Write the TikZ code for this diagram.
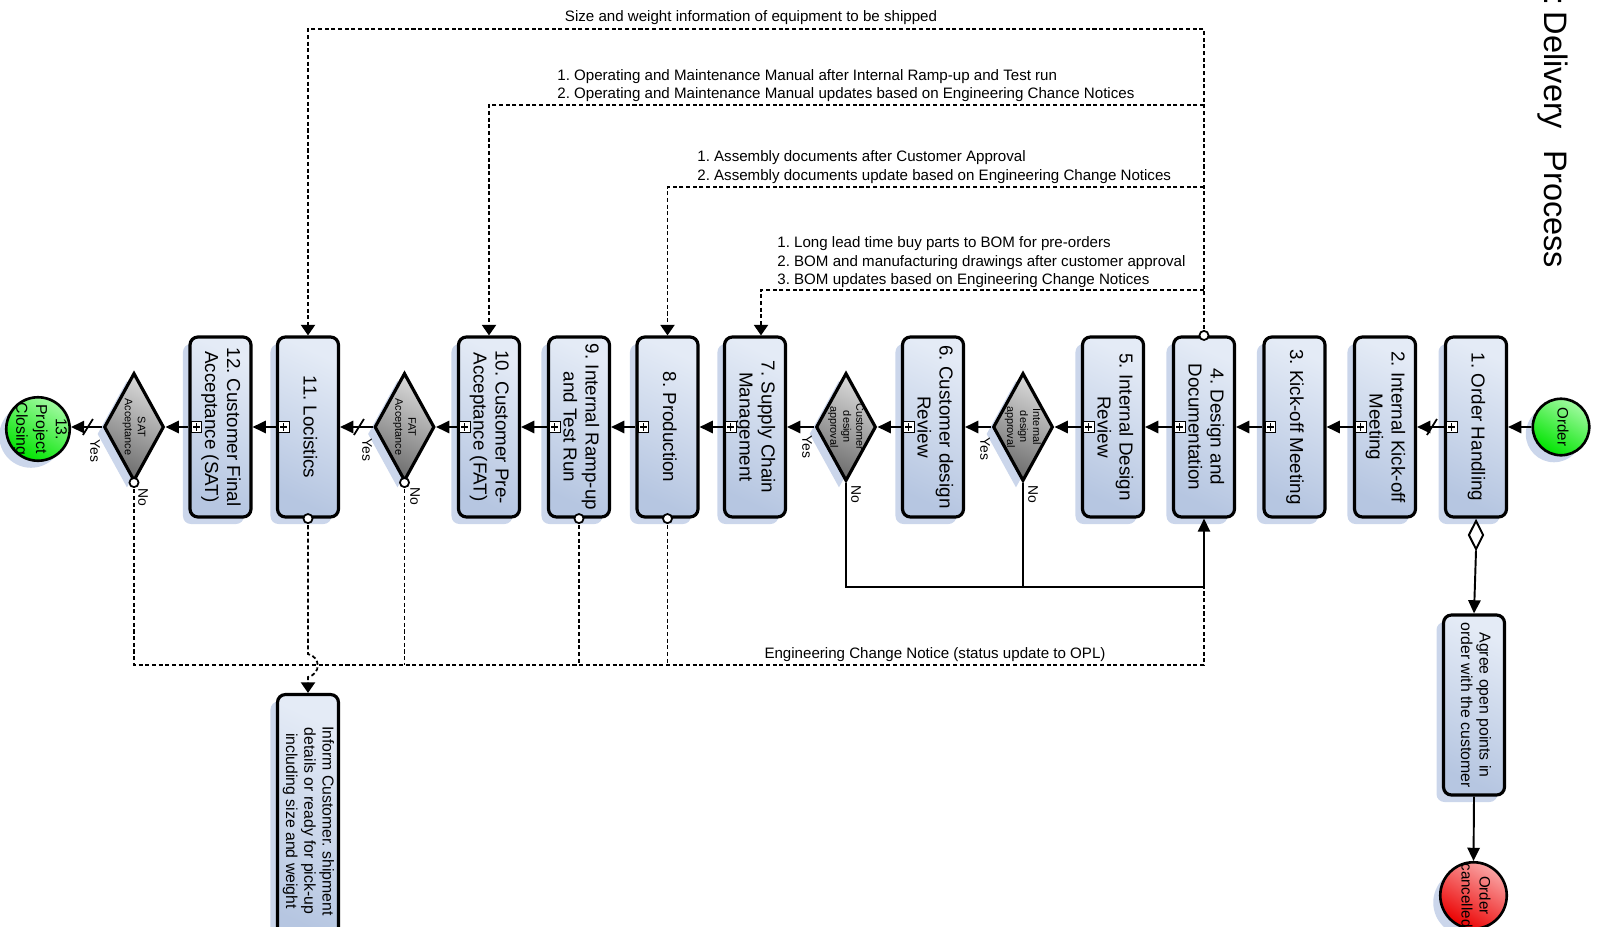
\documentclass[tikz,border=0pt]{standalone}
\usepackage{fontspec}
\setmainfont{Liberation Sans}
\usetikzlibrary{arrows.meta,shapes.geometric,shadows,calc}
\definecolor{boxlight}{RGB}{228,235,246}
\definecolor{boxdark}{RGB}{182,198,225}
\definecolor{shadowblue}{RGB}{203,214,235}
\definecolor{gatelight}{RGB}{216,216,216}
\definecolor{gatedark}{RGB}{110,110,110}
\definecolor{startlight}{RGB}{160,250,160}
\definecolor{startdark}{RGB}{0,228,0}
\definecolor{endlight}{RGB}{250,165,165}
\definecolor{enddark}{RGB}{235,0,0}
\frenchspacing
\newcommand{\rtext}[1]{\rotatebox{-90}{\begin{tabular}{@{}c@{}}#1\end{tabular}}}
\tikzset{
  bshadow/.style={drop shadow={shadow xshift=-4pt,shadow yshift=-4pt,fill=shadowblue,opacity=1}},
  task/.style={draw,line width=1.8pt,rounded corners=4.5pt,top color=boxlight,bottom color=boxdark,
    shading angle=-25,minimum width=1.22cm,minimum height=3.6cm,inner sep=0pt,bshadow,
    font=\fontsize{10.7}{12.5}\selectfont},
  note/.style={task,font=\fontsize{9}{10.4}\selectfont},
  gate/.style={diamond,draw,line width=1.8pt,top color=gatelight,bottom color=gatedark,
    shading angle=-25,minimum width=1.2cm,minimum height=2.16cm,inner sep=0pt,bshadow},
  gtext/.style={rotate=-90,align=center,inner sep=0pt,font=\fontsize{6.2}{7.4}\selectfont},
  event/.style={circle,draw,line width=1.5pt,inner sep=0pt,bshadow},
  etext/.style={rotate=-90,align=center,inner sep=0pt},
  opengate/.style={diamond,draw,fill=white,line width=1.1pt,inner sep=0pt,
    minimum width=0.3cm,minimum height=0.58cm},
  flow/.style={line width=1.1pt,-{Triangle[length=7.5pt,width=7pt]}},
  assocline/.style={line width=1pt,dash pattern=on 2.3pt off 1.5pt},
  assoc/.style={assocline,-{Triangle[length=6pt,width=8pt]}},
  startmark/.style={draw,fill=white,line width=1pt},
  lbl/.style={inner sep=0pt,font=\fontsize{8.6}{10.4}\selectfont},
  side/.style={inner sep=0pt,rotate=-90,font=\fontsize{7.9}{9}\selectfont},
}
\begin{document}
\begin{tikzpicture}[x=0.02cm,y=-0.02cm]
  \useasboundingbox (0,0) rectangle (1598,926);
  \clip (0,0) rectangle (1598,926);
  \node[rotate=-90,anchor=west,inner sep=0pt,font=\fontsize{18.5}{22}\selectfont] (title) at (1553,-4)
    {:\hspace{0.2em}Delivery\hspace{0.38em} Process};

  \foreach \nm/\xx/\txt in {b1/1476/{1. Order Handling},b2/1385/{2. Internal Kick-off\\Meeting},
      b3/1294.5/{3. Kick-off Meeting},b4/1204/{4. Design and\\Documentation},
      b5/1113/{5. Internal Design\\Review},b6/933/{6. Customer design\\Review},
      b7/755/{7. Supply Chain\\Management},b8/667.5/{8. Production},
      b9/579/{9. Internal Ramp-up\\and Test Run},b10/489/{10. Customer Pre-\\Acceptance (FAT)},
      b11/308/{11. Locistics},b12/220.5/{12. Customer Final\\Acceptance (SAT)}}
    \node[task] (\nm) at (\xx,427) {\rtext{\txt}};

  \foreach \nm/\xx/\txt in {dI/1023/{Internal\\design\\approval},dC/846/{Customer\\design\\approval},
      dF/404.5/{FAT\\Acceptance},dS/134/{SAT\\Acceptance}}{
    \node[gate] (\nm) at (\xx,427) {};
    \node[gtext] (\nm t) at (\nm) {\txt};
  }

  \node[event,top color=startlight,bottom color=startdark,shading angle=-30,minimum size=1.13cm,
    font=\fontsize{8.6}{10}\selectfont] (oc) at (1561,427) {\rtext{Order}};
  \node[event,top color=startlight,bottom color=startdark,shading angle=-30,minimum size=1.27cm] (c13) at (38,429) {};
  \begin{scope}
    \clip (c13.center) circle (0.62cm);
    \node[etext,font=\fontsize{9}{11.3}\selectfont] (c13t) at (40,429) {13.\\Project\\Closing};
  \end{scope}

  \node[opengate] (og) at (1476,535) {};
  \node[note] (agree) at (1474,705) {\rtext{Agree open points in\\order with the customer}};
  \node[event,top color=endlight,bottom color=enddark,shading angle=-30,minimum size=1.33cm] (ec) at (1473.5,895.5) {};
  \node[etext,font=\fontsize{8.6}{10.2}\selectfont] (ect) at (1476,895.5) {Order\\cancelled};
  \node[note,minimum height=5.06cm] (inf) at (308,821)
    {\rtext{Inform Customer. shipment\\details or ready for pick-up\\including size and weight}};

  \foreach \a/\b in {oc/b1,b1/b2,b2/b3,b3/b4,b4/b5,b5/dI,dI/b6,b6/dC,dC/b7,b7/b8,b8/b9,b9/b10,
      b10/dF,dF/b11,b11/b12,b12/dS,dS/c13}
    \draw[flow] (\a.west) -- (\a.west -| \b.east);
  \foreach \a/\dx in {b1/12,dF/14,dS/14.5}
    \draw[line width=1pt] ($(\a.west)+(-\dx-5,8)$) -- ++(10,-16);
  \foreach \b in {b1,b2,b3,b4,b5,b6,b7,b8,b9,b10,b11,b12}{
    \draw[line width=0.6pt,fill=white] ([xshift=4.5pt]\b.west) +(-3pt,-3pt) rectangle +(3pt,3pt);
    \draw[line width=0.6pt] ([xshift=4.5pt]\b.west) +(-2pt,0) -- +(2pt,0) +(0,-2pt) -- +(0,2pt);
  }

  \draw[flow] (og.south) -- (agree.north);
  \draw[flow] (agree.south) -- (ec.north);

  \coordinate (jn) at (0,587);
  \coordinate (ecn) at (0,665);
  \draw[line width=1.1pt] (dC.south) |- (b4.south |- jn);
  \draw[line width=1.1pt] (dI.south) -- (dI.south |- jn);
  \draw[flow] (b4.south |- jn) -- (b4.south);
  \draw[assocline] (dS.south) |- (b4.south |- ecn) -- (b4.south |- jn);
  \foreach \s in {dF,b9,b8}
    \draw[assocline] (\s.south) -- (\s.south |- ecn);
  \draw[assoc] (b11.south) -- ($(b11.south |- ecn)+(0,-11)$)
    .. controls +(13,3) and +(13,-3) .. ($(b11.south |- ecn)+(0,12)$) -- (inf.north);
  \node[lbl] (ecnl) at (935,655) {Engineering Change Notice (status update to OPL)};

  \coordinate (t1) at (0,29);
  \coordinate (t2) at (0,105);
  \coordinate (t3) at (0,187);
  \coordinate (t4) at (0,290);
  \draw[assoc] (b4.north) -- (b4.north |- t1) -| (b11.north);
  \draw[assoc] (b4.north |- t2) -| (b10.north);
  \draw[assoc] (b4.north |- t3) -| (b8.north);
  \draw[assoc] (b4.north |- t4) -| ([xshift=0.12cm]b7.north);
  \node[lbl] (l1) at (751,18) {Size and weight information of equipment to be shipped};
  \node[lbl,anchor=west,align=left] (l2) at (557,85.6)
    {1. Operating and Maintenance Manual after Internal Ramp-up and Test run\\
     2. Operating and Maintenance Manual updates based on Engineering Chance Notices};
  \node[lbl,anchor=west,align=left] (l3) at (697,167)
    {1. Assembly documents after Customer Approval\\
     2. Assembly documents update based on Engineering Change Notices};
  \node[lbl,anchor=west,align=left] (l4) at (777,262.3)
    {1. Long lead time buy parts to BOM for pre-orders\\
     2. BOM and manufacturing drawings after customer approval\\
     3. BOM updates based on Engineering Change Notices};

  \foreach \s in {dS.south,dF.south,b9.south,b8.south,b11.south,b4.north}
    \draw[startmark] (\s) circle (2.6pt);

  \node[side] (y1) at (95,451) {Yes};
  \node[side] (y2) at (367,450) {Yes};
  \node[side] (y3) at (807,447) {Yes};
  \node[side] (y4) at (985,449) {Yes};
  \node[side] (n1) at (143,497) {No};
  \node[side] (n2) at (415,496) {No};
  \node[side] (n3) at (856,494) {No};
  \node[side] (n4) at (1033,494) {No};
\end{tikzpicture}
\end{document}
